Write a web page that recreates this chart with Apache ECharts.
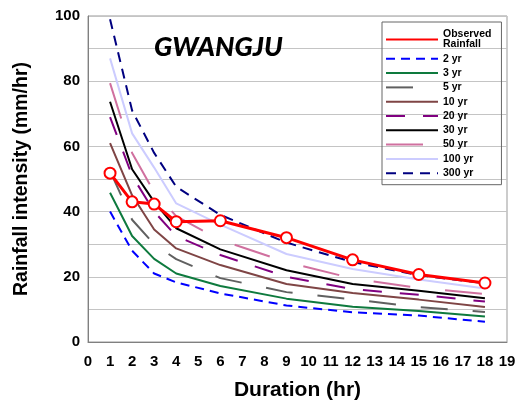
<!DOCTYPE html>
<html>
<head>
<meta charset="utf-8">
<script src="https://cdn.jsdelivr.net/npm/echarts@6/dist/echarts.min.js"></script>
<style>html,body{margin:0;padding:0;background:#fff;}#c{width:528px;height:408px;}</style>
</head>
<body>
<div id="c"></div>
<script>
// Durations (hr)
var durations = [1, 2, 3, 4, 6, 9, 12, 15, 18];
// Rainfall intensity (mm/hr)
var observed = [51.8, 43.0, 42.3, 36.9, 37.2, 32.0, 25.2, 20.7, 18.1];
var yr2   = [40.0, 28.0, 21.0, 18.3, 14.9, 11.2, 9.1, 8.1, 6.2];
var yr3   = [45.8, 32.5, 25.5, 21.0, 17.2, 13.3, 10.8, 9.5, 7.8];
var yr5   = [52.5, 37.5, 30.0, 25.4, 19.6, 15.3, 13.1, 10.7, 9.2];
var yr10  = [61.0, 45.0, 34.5, 28.7, 23.6, 17.8, 15.0, 13.0, 10.7];
var yr20  = [69.0, 51.0, 40.0, 32.5, 26.7, 20.0, 16.2, 14.5, 12.4];
var yr30  = [73.7, 53.0, 43.0, 34.9, 28.4, 22.0, 17.8, 15.7, 13.4];
var yr50  = [79.4, 58.0, 46.0, 38.6, 31.3, 24.5, 19.5, 16.6, 14.7];
var yr100 = [87.0, 64.0, 53.5, 42.5, 36.0, 27.0, 22.4, 19.2, 16.4];
var yr300 = [99.0, 71.0, 58.0, 47.6, 39.0, 30.5, 24.5, 20.5, 18.0];
var seriesNames = ['Observed Rainfall', '2 yr', '3 yr', '5 yr', '10 yr', '20 yr', '30 yr', '50 yr', '100 yr', '300 yr'];
var xTicks = [0,1,2,3,4,5,6,7,8,9,10,11,12,13,14,15,16,17,18,19];

function pairs(vals) { return durations.map(function (d, i) { return [d, vals[i]]; }); }

var styles = [
  null,
  { color: '#0000ff', type: [9, 6], width: 2 },
  { color: '#0e7a3e', type: 'solid', width: 2 },
  { color: '#606060', type: [27, 25], width: 2 },
  { color: '#7f4545', type: 'solid', width: 2 },
  { color: '#800080', type: [19, 18], width: 2 },
  { color: '#000000', type: 'solid', width: 2 },
  { color: '#d0709f', type: [37, 35], width: 2 },
  { color: '#ccccff', type: 'solid', width: 2 },
  { color: '#000080', type: [10, 7], width: 2 }
];
var dataSets = [observed, yr2, yr3, yr5, yr10, yr20, yr30, yr50, yr100, yr300];

var series = [];
for (var i = 1; i < dataSets.length; i++) {
  series.push({
    name: seriesNames[i], type: 'line', data: pairs(dataSets[i]),
    symbol: 'none', silent: true, z: 2,
    lineStyle: { color: styles[i].color, type: styles[i].type, width: styles[i].width },
    itemStyle: { color: styles[i].color }
  });
}
series.push({
  name: seriesNames[0], type: 'line', data: pairs(observed),
  symbol: 'emptyCircle', symbolSize: 11, z: 5,
  lineStyle: { color: '#ff0000', width: 3 },
  itemStyle: { color: '#ff0000', borderColor: '#ff0000', borderWidth: 2 }
});

var chart = echarts.init(document.getElementById('c'));
chart.setOption({
  animation: false,
  backgroundColor: '#fff',
  title: {
    text: 'GWANGJU', left: 149, top: 29,
    textStyle: { fontFamily: 'Lato', fontStyle: 'italic', fontWeight: 900, fontSize: 27, color: '#000' }
  },
  grid: { left: 88, right: 21, top: 16, bottom: 66, show: true, borderColor: '#999', borderWidth: 1 },
  legend: {
    orient: 'vertical', left: 382, top: 22,
    data: seriesNames,
    itemWidth: 52, itemHeight: 10, itemGap: 3.3,
    padding: [7, 10, 6, 3],
    borderColor: '#666', borderWidth: 1,
    itemStyle: { opacity: 0 },
    formatter: function (n) { return n === 'Observed Rainfall' ? 'Observed\nRainfall' : n; },
    textStyle: { fontFamily: 'Liberation Sans', fontWeight: 'bold', fontSize: 10.5, lineHeight: 10, color: '#000' }
  },
  xAxis: {
    type: 'value', min: 0, max: 19, interval: 1,
    name: 'Duration (hr)', nameLocation: 'middle', nameGap: 38,
    nameTextStyle: { fontFamily: 'Liberation Sans', fontWeight: 'bold', fontSize: 21, color: '#000' },
    axisLine: { show: true, lineStyle: { color: '#808080', width: 1 } },
    axisTick: { show: false },
    splitLine: { show: false },
    axisLabel: { margin: 12, fontFamily: 'Liberation Sans', fontWeight: 'bold', fontSize: 15, color: '#000',
      formatter: function (v) { return xTicks.indexOf(v) >= 0 ? String(v) : ''; } }
  },
  yAxis: {
    type: 'value', min: 0, max: 100, interval: 10,
    name: 'Rainfall intensity (mm/hr)', nameLocation: 'middle', nameGap: 56,
    nameTextStyle: { fontFamily: 'Liberation Sans', fontWeight: 'bold', fontSize: 19.5, color: '#000' },
    axisLine: { show: true, lineStyle: { color: '#808080', width: 1 } },
    axisTick: { show: false },
    splitLine: { show: true, lineStyle: { color: '#c4c4c4', width: 1 } },
    axisLabel: { margin: 8, fontFamily: 'Liberation Sans', fontWeight: 'bold', fontSize: 15, color: '#000',
      formatter: function (v) { return v % 20 === 0 ? String(v) : ''; } }
  },
  series: series
});
</script>
</body>
</html>
